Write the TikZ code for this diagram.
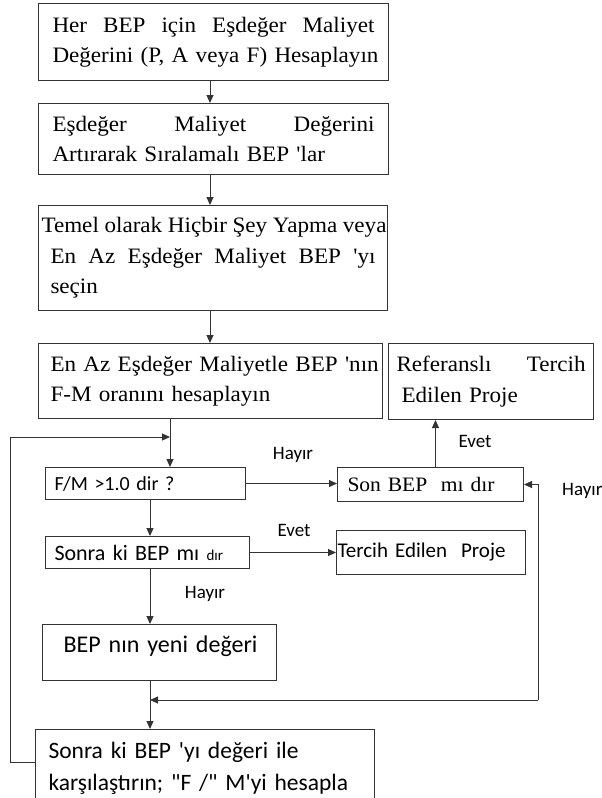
\documentclass[tikz,border=0pt]{standalone}
\usepackage{fontspec}
\newfontfamily\tnrfont{Liberation Serif}[Ligatures=TeXOff, FakeStretch=1.05]
\newfontfamily\calfont{Carlito}[Ligatures=TeXOff]
\usetikzlibrary{arrows.meta}
\newcommand{\jline}[2][\hsize]{\makebox[#1][s]{\spaceskip=0pt\relax#2}}

\begin{document}
\begin{tikzpicture}[
									x = 1pt,
									y = -1pt,
									box/.style = {
										draw = black!80,
										line width = 1pt,
										rectangle,
										anchor = north west,
										inner ysep = 0,
										align = left
									},
									serif/.style = {
										font = \tnrfont\fontsize{22}{30.5}\selectfont
									},
									sans/.style = {
										font = \calfont\fontsize{22}{32}\selectfont
									},
									lbl/.style = {
										font = \calfont\fontsize{19}{19}\selectfont,
										inner sep = 0
									},
									arr/.style = {
										draw = black!80,
										line width = 1pt,
										-{Triangle[length = 8pt, width = 7pt]}
									}
								]
							\useasboundingbox (0, 0) rectangle (602, 798);
							\clip (0, 0) rectangle (602, 798);

							\coordinate (mid) at (210, 0);
							\coordinate (jn) at (170, 437);
							\coordinate (lp) at (10, 762);
							\coordinate (rt) at (538, 700);
							\coordinate (sp) at (150, 700);

							\node [box, serif, minimum width = 350, minimum height = 77, inner xsep = 14, text width = 322] (b1) at (38, 3)
								{\jline{Her BEP için Eşdeğer Maliyet}\\\mbox{Değerini (P, A veya F) Hesaplayın}};
							\node [box, serif, minimum width = 350, minimum height = 71, inner xsep = 14, text width = 322] (b2) at (38, 103)
								{\jline{Eşdeğer Maliyet Değerini}\\\mbox{Artırarak Sıralamalı BEP 'lar}};
							\node [box, serif, minimum width = 349, minimum height = 105, inner xsep = 12, text width = 325] (b3) at (38, 205)
								{\hspace*{-9pt}\jline[345pt]{Temel olarak Hiçbir Şey Yapma veya}\\\jline{En Az Eşdeğer Maliyet BEP 'yı}\\seçin};
							\node [box, serif, minimum width = 344, minimum height = 75, inner xsep = 12, text width = 320] (b4) at (38, 343)
								{\mbox{En Az Eşdeğer Maliyetle BEP 'nın}\\\mbox{F-M oranını hesaplayın}};
							\node [box, serif, minimum width = 205, minimum height = 76, inner xsep = 8, text width = 189] (ref) at (388, 343)
								{\jline{Referanslı Tercih}\\\hspace*{5pt}Edilen Proje};

							\node [box, font = \calfont\fontsize{20}{20}\selectfont, minimum width = 200, minimum height = 32, inner xsep = 9, text width = 182] (fm) at (45, 467)
								{F/M >1.0 dir ?};
							\node [box, font = \tnrfont\fontsize{20.5}{20.5}\selectfont, minimum width = 186, minimum height = 34, inner xsep = 10, text width = 166] (son) at (337, 467)
								{Son BEP\ \ mı dır};
							\node [box, sans, minimum width = 204, minimum height = 32, inner xsep = 9, text width = 186] (sk) at (45, 536)
								{Sonra ki BEP mı {\fontsize{15}{15}\selectfont dır}};
							\node [box, font = \calfont\fontsize{21}{21}\selectfont, minimum width = 189, minimum height = 44, inner xsep = 1, text width = 187] (ter) at (336, 530)
								{Tercih Edilen\ \ Proje};
							\node [box, font = \calfont\fontsize{24}{24}\selectfont, minimum width = 234, minimum height = 56, inner xsep = 21, text width = 192, text height = 17, text depth = 17] (new) at (42, 624)
								{\mbox{BEP nın yeni değeri}};
							\node [box, font = \calfont\fontsize{23.5}{32}\selectfont, minimum width = 339, minimum height = 78, inner xsep = 13, text width = 313] (fin) at (35, 729)
								{Sonra ki BEP 'yı değeri ile\\\mbox{karşılaştırın; "F /" M'yi hesapla}};

							\node [lbl] (h1) at (293, 455) {Hayır};
							\node [lbl] (e1) at (475, 441) {Evet};
							\node [lbl] (e2) at (294, 530) {Evet};
							\node [lbl] (h2) at (205, 594) {Hayır};
							\node [lbl, anchor = west] (h3) at (562, 491) {Hayır};

							\draw [arr] (mid |- b1.south) -- (mid |- b2.north);
							\draw [arr] (mid |- b2.south) -- (mid |- b3.north);
							\draw [arr] (mid |- b3.south) -- (mid |- b4.north);
							\draw [arr] (jn |- b4.south) -- (jn |- fm.north);
							\draw [arr] (lp -| fin.west) -- (lp) |- (jn);

							\draw [arr] (fm.east) -- (fm.east -| son.west);
							\draw [arr] ([xshift = 5pt]son.north) -- ([xshift = 5pt]son.north |- ref.south);
							\draw [arr] (rt) |- (son.east);
							\draw [arr] (rt) -- (sp);

							\draw [arr] (sp |- fm.south) -- (sp |- sk.north);
							\draw [arr] (sk.east) -- (ter.west);
							\draw [arr] (sp |- sk.south) -- (sp |- new.north);
							\draw [arr] (sp |- new.south) -- (sp |- fin.north);
						\end{tikzpicture}
\end{document}
